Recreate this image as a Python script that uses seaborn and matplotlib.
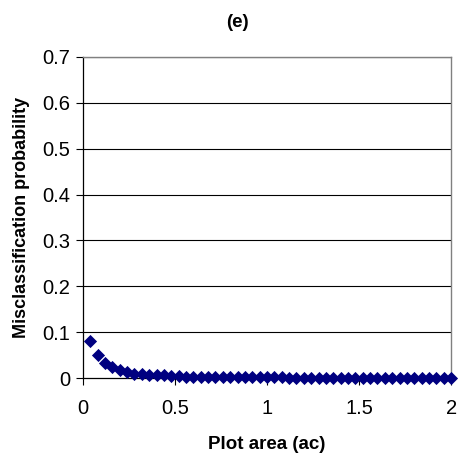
import numpy as np
import pandas as pd
import seaborn as sns
from matplotlib import pyplot as plt

plot_area = [0.04, 0.08, 0.12, 0.16, 0.20, 0.24, 0.28, 0.32, 0.36, 0.40,
             0.44, 0.48, 0.52, 0.56, 0.60, 0.64, 0.68, 0.72, 0.76, 0.80,
             0.84, 0.88, 0.92, 0.96, 1.00, 1.04, 1.08, 1.12, 1.16, 1.20,
             1.24, 1.28, 1.32, 1.36, 1.40, 1.44, 1.48, 1.52, 1.56, 1.60,
             1.64, 1.68, 1.72, 1.76, 1.80, 1.84, 1.88, 1.92, 1.96, 2.00]
misclass = [0.080, 0.051, 0.033, 0.025, 0.018, 0.013, 0.010, 0.008, 0.007, 0.006,
            0.006, 0.005, 0.005, 0.003, 0.003, 0.002, 0.002, 0.002, 0.002, 0.002,
            0.002, 0.002, 0.002, 0.002, 0.002, 0.002, 0.002, 0.001, 0.001, 0.001,
            0.001, 0.001, 0.001, 0.001, 0.001, 0.001, 0.001, 0.001, 0.001, 0.001,
            0.001, 0.001, 0.001, 0.001, 0.001, 0.001, 0.001, 0.001, 0.001, 0.001]
y_ticks = [0, 0.1, 0.2, 0.3, 0.4, 0.5, 0.6, 0.7]
y_labels = ['0', '0.1', '0.2', '0.3', '0.4', '0.5', '0.6', '0.7']
x_ticks = [0, 0.5, 1, 1.5, 2]
x_labels = ['0', '0.5', '1', '1.5', '2']

df = pd.DataFrame({'area': plot_area, 'prob': misclass})

sns.set_style('white')
plt.rcParams['font.family'] = ['Liberation Sans', 'DejaVu Sans']
plt.rcParams['text.color'] = 'black'
plt.rcParams['axes.labelcolor'] = 'black'

fig = plt.figure(figsize=(4.58, 4.55), dpi=100)
ax = fig.add_axes([0.181, 0.169, 0.804, 0.706])

for y in y_ticks[1:]:
    ax.axhline(y, color='black', lw=0.8, zorder=1)

sns.scatterplot(x='area', y='prob', data=df, ax=ax, marker='D', s=45,
                color='#000080', edgecolor='#000080', linewidth=0, zorder=3,
                clip_on=False)

ax.set_xlim(0, 2)
ax.set_ylim(0, 0.7)
ax.set_xticks(x_ticks)
ax.set_xticklabels(x_labels)
ax.set_yticks(y_ticks)
ax.set_yticklabels(y_labels)
ax.tick_params(axis='both', labelsize=14.5, colors='black')
ax.tick_params(axis='y', direction='out', length=5, width=0.8, left=True, pad=4)
ax.tick_params(axis='x', direction='out', length=5, width=0.8, bottom=True, pad=10)

for side in ['top', 'right']:
    ax.spines[side].set_color('#808080')
    ax.spines[side].set_linewidth(1.0)
for side in ['left', 'bottom']:
    ax.spines[side].set_color('black')
    ax.spines[side].set_linewidth(0.9)

ax.set_xlabel('Plot area (ac)', fontsize=13.5, fontweight='bold', labelpad=13)
ax.set_ylabel('Misclassification probability', fontsize=13, fontweight='bold', labelpad=9)
fig.text(0.518, 0.95, '(e)', ha='center', va='center', fontsize=13.5, fontweight='bold')

plt.savefig('out.png', dpi=100)
